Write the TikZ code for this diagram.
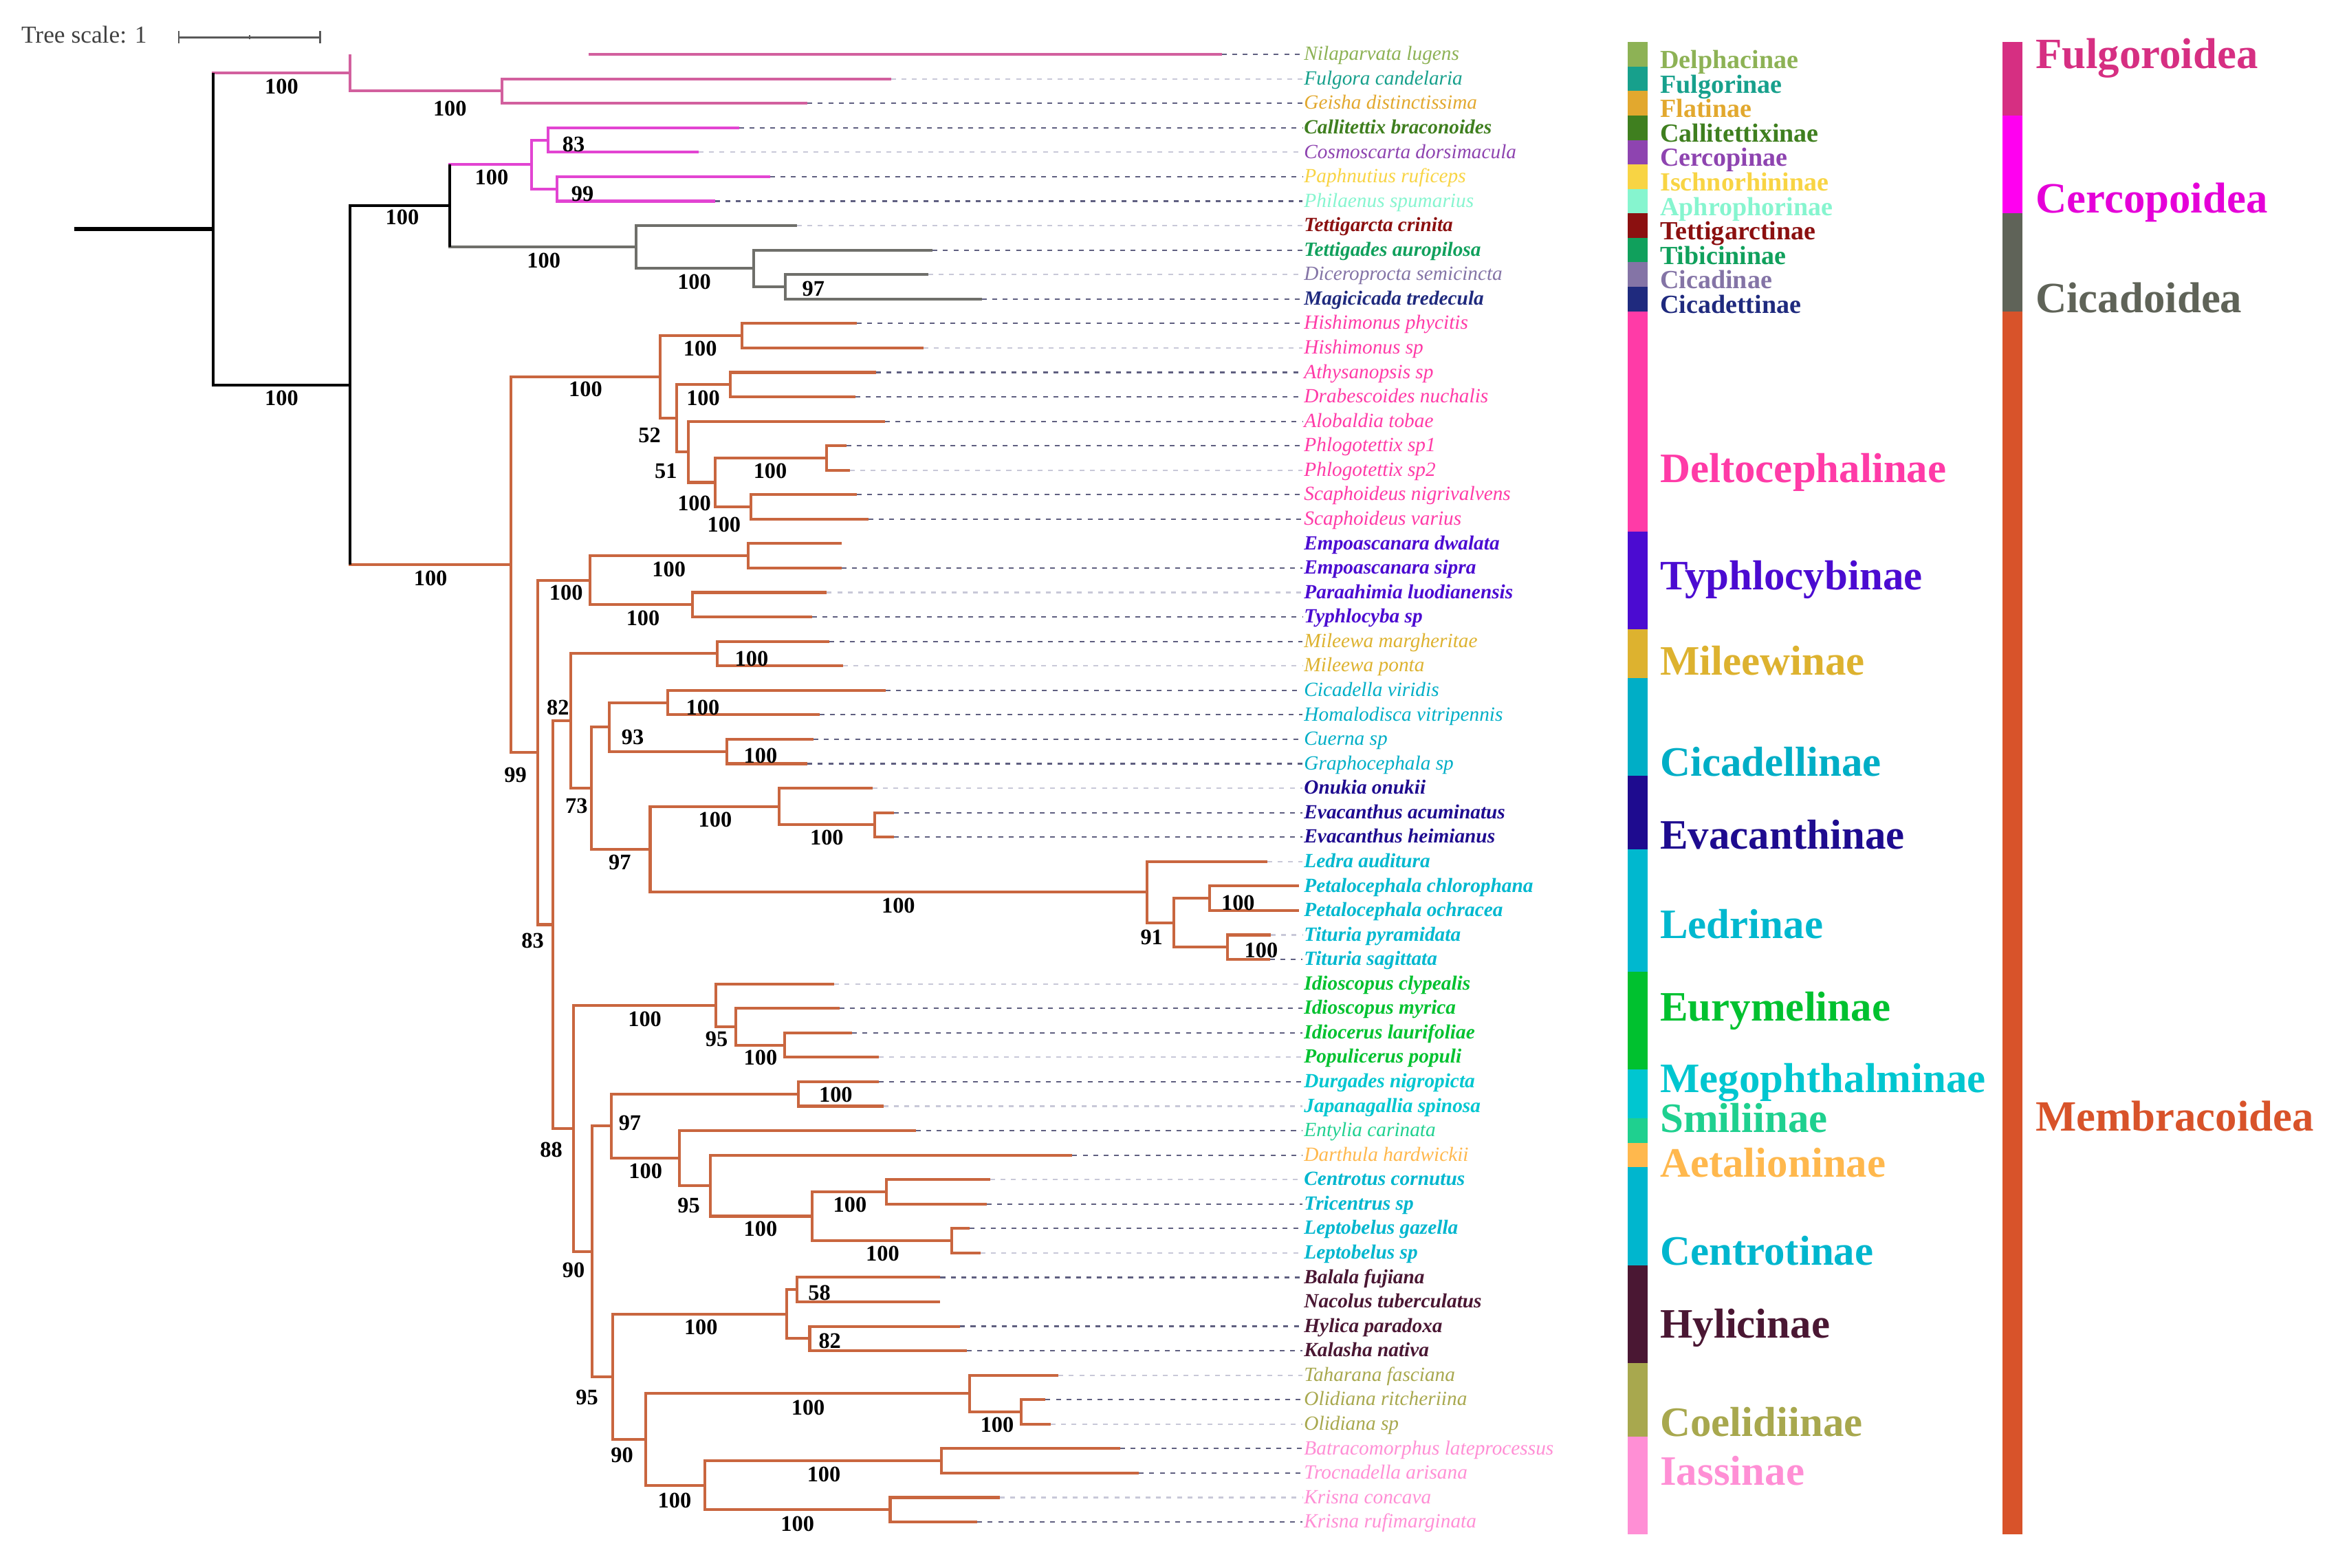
\documentclass[tikz,border=0pt]{standalone}
\usepackage{fontspec}
\setmainfont{Liberation Serif}
\usepackage{xcolor}
\usetikzlibrary{calc}

% branch colours
\definecolor{brF}{HTML}{D2609E}
\definecolor{brCe}{HTML}{E244D2}
\definecolor{brCi}{HTML}{6F6F6A}
\definecolor{brM}{HTML}{C9663F}
\definecolor{ldk}{HTML}{5F5F80}
\definecolor{llt}{HTML}{C8C8D8}
% subfamily colours
\definecolor{cDelph}{HTML}{8DB255}
\definecolor{cFulgi}{HTML}{17A08C}
\definecolor{cFlat}{HTML}{E2A82E}
\definecolor{cCallit}{HTML}{3F7F1F}
\definecolor{cCercop}{HTML}{8E44B0}
\definecolor{cIschno}{HTML}{F8D444}
\definecolor{cAphro}{HTML}{86F5CF}
\definecolor{cTettig}{HTML}{8B1010}
\definecolor{cTibic}{HTML}{10A05C}
\definecolor{cCicad}{HTML}{8474A6}
\definecolor{cCicadet}{HTML}{1F2A7E}
\definecolor{cDelto}{HTML}{FF3BA7}
\definecolor{cTyph}{HTML}{4B0BD1}
\definecolor{cMilee}{HTML}{DDB22F}
\definecolor{cCicadel}{HTML}{00AEC6}
\definecolor{cEvac}{HTML}{1E0B8F}
\definecolor{cLedr}{HTML}{00B8CF}
\definecolor{cEurym}{HTML}{00C12F}
\definecolor{cMegop}{HTML}{00C6D0}
\definecolor{cSmili}{HTML}{1FD08F}
\definecolor{cAetal}{HTML}{FFB84D}
\definecolor{cCentr}{HTML}{00B6CE}
\definecolor{cHylic}{HTML}{4A1733}
\definecolor{cCoeli}{HTML}{A8A84E}
\definecolor{cIassi}{HTML}{FF8FD5}
% superfamily colours
\definecolor{sFulg}{HTML}{D62F82}
\definecolor{sCerc}{HTML}{FF00F0}
\definecolor{sCica}{HTML}{5F6358}
\definecolor{sMemb}{HTML}{D8532A}

\begin{document}
\begin{tikzpicture}[x=0.2mm,y=-0.2mm,
    br/.style={line width=0.38mm},
    lead/.style={line width=0.2mm, dash pattern=on 0.65mm off 0.75mm},
    boot/.style={inner sep=0, font=\fontsize{8.5}{9}\selectfont\bfseries},
    leaf/.style={anchor=base west, inner sep=0, font=\fontsize{7.7}{8}\selectfont\itshape},
    subsmall/.style={anchor=base west, inner sep=0, font=\fontsize{10}{10}\selectfont\bfseries},
    subbig/.style={anchor=base west, inner sep=0, font=\fontsize{16}{16}\selectfont\bfseries},
    superfam/.style={anchor=base west, inner sep=0, font=\fontsize{16.5}{17}\selectfont\bfseries}]
    \useasboundingbox (0,0) rectangle (1568,1052);

    % Tree scale
    \node[anchor=base west, inner sep=0, text=black!75, font=\fontsize{9.3}{10}\selectfont] (scale) at (14,29) {Tree scale: 1};
    \draw[black!65, line width=0.25mm] (120,25) -- (215,25);
    \draw[black!65, line width=0.25mm] (120,21) -- (120,29);
    \draw[black!65, line width=0.25mm] (215,21) -- (215,29);
    \draw[black!65, line width=0.2mm] (167.6,23.5) -- (167.6,26.5);

    % Leaves
    \foreach \tx/\name/\col/\wt/\ld [count=\i] in {
        820/Nilaparvata lugens/cDelph/\mdseries/ldk,
        598/Fulgora candelaria/cFulgi/\mdseries/llt,
        542/Geisha distinctissima/cFlat/\mdseries/ldk,
        496/Callitettix braconoides/cCallit/\bfseries/ldk,
        469/Cosmoscarta dorsimacula/cCercop/\mdseries/llt,
        517/Paphnutius ruficeps/cIschno/\mdseries/ldk,
        480/Philaenus spumarius/cAphro/\mdseries/ldk,
        535/Tettigarcta crinita/cTettig/\bfseries/llt,
        626/Tettigades auropilosa/cTibic/\bfseries/ldk,
        623/Diceroprocta semicincta/cCicad/\mdseries/llt,
        659/Magicicada tredecula/cCicadet/\bfseries/ldk,
        575/Hishimonus phycitis/cDelto/\mdseries/ldk,
        620/Hishimonus sp/cDelto/\mdseries/llt,
        588/Athysanopsis sp/cDelto/\mdseries/ldk,
        574/Drabescoides nuchalis/cDelto/\mdseries/ldk,
        594/Alobaldia tobae/cDelto/\mdseries/ldk,
        568/Phlogotettix sp1/cDelto/\mdseries/ldk,
        570.5/Phlogotettix sp2/cDelto/\mdseries/llt,
        575/Scaphoideus nigrivalvens/cDelto/\mdseries/ldk,
        583/Scaphoideus varius/cDelto/\mdseries/ldk,
        565/Empoascanara dwalata/cTyph/\bfseries/none,
        565/Empoascanara sipra/cTyph/\bfseries/ldk,
        555/Paraahimia luodianensis/cTyph/\bfseries/llt,
        545/Typhlocyba sp/cTyph/\bfseries/ldk,
        556.5/Mileewa margheritae/cMilee/\mdseries/ldk,
        566/Mileewa ponta/cMilee/\mdseries/llt,
        594.5/Cicadella viridis/cCicadel/\mdseries/ldk,
        550/Homalodisca vitripennis/cCicadel/\mdseries/ldk,
        546/Cuerna sp/cCicadel/\mdseries/ldk,
        542/Graphocephala sp/cCicadel/\mdseries/ldk,
        585.7/Onukia onukii/cEvac/\bfseries/llt,
        600/Evacanthus acuminatus/cEvac/\bfseries/ldk,
        600/Evacanthus heimianus/cEvac/\bfseries/ldk,
        850.6/Ledra auditura/cLedr/\bfseries/llt,
        872/Petalocephala chlorophana/cLedr/\bfseries/none,
        872/Petalocephala ochracea/cLedr/\bfseries/none,
        853/Tituria pyramidata/cLedr/\bfseries/llt,
        852.5/Tituria sagittata/cLedr/\bfseries/ldk,
        560/Idioscopus clypealis/cEurym/\bfseries/llt,
        563.6/Idioscopus myrica/cEurym/\bfseries/ldk,
        572/Idiocerus laurifoliae/cEurym/\bfseries/ldk,
        590/Populicerus populi/cEurym/\bfseries/llt,
        590/Durgades nigropicta/cMegop/\bfseries/ldk,
        593/Japanagallia spinosa/cMegop/\bfseries/llt,
        614.6/Entylia carinata/cSmili/\mdseries/ldk,
        719.8/Darthula hardwickii/cAetal/\mdseries/ldk,
        664.7/Centrotus cornutus/cCentr/\bfseries/llt,
        662.4/Tricentrus sp/cCentr/\bfseries/ldk,
        651/Leptobelus gazella/cCentr/\bfseries/ldk,
        658/Leptobelus sp/cCentr/\bfseries/llt,
        631.2/Balala fujiana/cHylic/\bfseries/ldk,
        631/Nacolus tuberculatus/cHylic/\bfseries/none,
        644.5/Hylica paradoxa/cHylic/\bfseries/ldk,
        649/Kalasha nativa/cHylic/\bfseries/ldk,
        710.5/Taharana fasciana/cCoeli/\mdseries/llt,
        701.8/Olidiana ritcheriina/cCoeli/\mdseries/ldk,
        705.3/Olidiana sp/cCoeli/\mdseries/llt,
        751.7/Batracomorphus lateprocessus/cIassi/\mdseries/ldk,
        764.5/Trocnadella arisana/cIassi/\mdseries/ldk,
        671/Krisna concava/cIassi/\mdseries/llt,
        656/Krisna rufimarginata/cIassi/\mdseries/ldk} {
        \coordinate (t\i) at (\tx,{36.5+16.417*(\i-1)});
        \node[leaf, text=\col] (l\i) at (875,{40.5+16.417*(\i-1)}) {\wt\name};
        \draw[lead, draw=\ld] (t\i) -- ([xshift=-0.5pt]t\i -| l\i.west);
    }

    % Internal nodes
    \foreach \n/\x/\y in {
        nR/143/153.7, nC/235/258.55, nD/302/138.1,
        nFg/235/48.8, nFg2/337/61.1,
        nCe/357/110.4, nCe1/368/94.0, nCe2/374/126.8,
        nCi/427/165.8, nCi2/506/180.1, nCi3/527/192.5,
        nM/343/379.0, nDe/443/253.0, nDe1/498/225.3, nDe2/454/280.7,
        nDe3/490/258.1, nDe4/462/303.3, nDe5/480/323.8, nDe6/555/307.4, nDe7/504/340.2,
        nE99/361/505.05, nTy/396/389.5, nTy1/502/373.05, nTy2/465/405.9,
        nE83/371/620.6, nE82/383/483.9, nMi/481.5/438.7, nE73/397/529.0,
        nCa/409/488.0, nCa1/448/471.55, nCa2/488/504.4,
        nE97/436.4/570.05, nEv/523/541.3, nEv2/587/553.6,
        nLe/770/598.8, nLe2/788/619.3, nLe3/812/602.9, nLe4/824/635.7,
        nE88/385/757.3, nEu/480.4/674.7, nEu2/494/689.1, nEu3/526.6/701.4,
        nE90/397.4/839.9, nE97b/410.5/755.75, nMg/536/734.2,
        nSm/456/777.3, nCt/476.7/795.8, nCt1/545/816.3, nCt2/595/799.9, nCt3/639/832.7,
        nE95/411.2/924.05, nHy/528/882.0, nHy1/535/865.55, nHy2/543.5/898.4,
        nE90b/433.6/966.1, nCo/650.7/935.3, nCo2/685.3/947.6,
        nIa/473.3/996.9, nIa1/632/980.5, nIa2/597.5/1013.3}
        \coordinate (\n) at (\x,\y);
    \coordinate (root) at (50,153.7);
    \coordinate (s1) at (395,36.5);

    % Fulgoroidea
    \foreach \p/\c in {nR/nFg, nFg2/t2, nFg2/t3, nFg/nFg2}
        \draw[br, draw=brF] (\p) |- (\c);
    \draw[br, draw=brF] (nFg) -- (nFg |- t1);
    \draw[br, draw=brF] (s1) -- (t1);

    % Cercopoidea
    \foreach \p/\c in {nD/nCe, nCe/nCe1, nCe/nCe2, nCe1/t4, nCe1/t5, nCe2/t6, nCe2/t7}
        \draw[br, draw=brCe] (\p) |- (\c);

    % Cicadoidea
    \foreach \p/\c in {nD/nCi, nCi/t8, nCi/nCi2, nCi2/t9, nCi2/nCi3, nCi3/t10, nCi3/t11}
        \draw[br, draw=brCi] (\p) |- (\c);

    % Membracoidea
    \foreach \p/\c in {nC/nM, nM/nDe, nDe/nDe1, nDe1/t12, nDe1/t13, nDe/nDe2, nDe2/nDe3,
        nDe3/t14, nDe3/t15, nDe2/nDe4, nDe4/t16, nDe4/nDe5, nDe5/nDe6, nDe6/t17, nDe6/t18,
        nDe5/nDe7, nDe7/t19, nDe7/t20,
        nM/nE99, nE99/nTy, nTy/nTy1, nTy1/t21, nTy1/t22, nTy/nTy2, nTy2/t23, nTy2/t24,
        nE99/nE83, nE83/nE82, nE82/nMi, nMi/t25, nMi/t26, nE82/nE73, nE73/nCa,
        nCa/nCa1, nCa1/t27, nCa1/t28, nCa/nCa2, nCa2/t29, nCa2/t30,
        nE73/nE97, nE97/nEv, nEv/t31, nEv/nEv2, nEv2/t32, nEv2/t33,
        nE97/nLe, nLe/t34, nLe/nLe2, nLe2/nLe3, nLe3/t35, nLe3/t36, nLe2/nLe4, nLe4/t37, nLe4/t38,
        nE83/nE88, nE88/nEu, nEu/t39, nEu/nEu2, nEu2/t40, nEu2/nEu3, nEu3/t41, nEu3/t42,
        nE88/nE90, nE90/nE97b, nE97b/nMg, nMg/t43, nMg/t44, nE97b/nSm, nSm/t45,
        nSm/nCt, nCt/t46, nCt/nCt1, nCt1/nCt2, nCt2/t47, nCt2/t48, nCt1/nCt3, nCt3/t49, nCt3/t50,
        nE90/nE95, nE95/nHy, nHy/nHy1, nHy1/t51, nHy1/t52, nHy/nHy2, nHy2/t53, nHy2/t54,
        nE95/nE90b, nE90b/nCo, nCo/t55, nCo/nCo2, nCo2/t56, nCo2/t57,
        nE90b/nIa, nIa/nIa1, nIa1/t58, nIa1/t59, nIa/nIa2, nIa2/t60, nIa2/t61}
        \draw[br, draw=brM] (\p) |- (\c);

    % Backbone
    \draw[br] (nR) |- (nC);
    \draw[br] (nC) |- (nD);
    \draw[br] (nR) -- (nR |- nFg);
    \draw[br] (nC) -- (nC |- nM);
    \draw[br] (nD |- nCe) -- (nD |- nCi);
    \draw[line width=0.55mm] (root) -- (nR);

    % Bootstrap values
    \foreach \x/\y/\v [count=\k] in {
        189/58/100, 302/73/100, 385/97/83, 330/119/100, 391/130/99, 270/146/100,
        365/175/100, 466/189/100, 546/194/97, 189/267/100, 289/388/100,
        393/261/100, 470/234/100, 436/292/52, 472/267/100, 447/316/51, 466/338/100,
        517/316/100, 486/352/100,
        380/398/100, 449/382/100, 431.6/414.7/100, 346/520/99, 357.5/631.6/83,
        374.5/475/82, 504.5/442/100, 387/541/73, 424.7/494.8/93, 471.7/474.7/100,
        510.5/507/100, 416/579/97, 480/550/100, 555/562/100, 603/607.7/100,
        773/629/91, 831/606/100, 846.5/637.7/100,
        370/771.7/88, 432.8/684/100, 481/697.4/95, 510.5/710/100, 385/852.4/90,
        422.8/753.8/97, 561/734.6/100, 433.3/785.8/100, 462.3/808.9/95, 510.5/824.8/100,
        570.5/808.8/100, 592.4/841.5/100, 394/937.7/95, 470.5/890.8/100, 550/867.8/58,
        557/899.8/82, 417.5/976.6/90, 542.4/944.6/100, 669.3/956.5/100,
        452.8/1006.9/100, 553/989.4/100, 535.3/1022.7/100}
        \node[boot] (b\k) at (\x,\y) {\v};

    % Subfamily bar
    \foreach \a/\b/\col in {1/1/cDelph, 2/2/cFulgi, 3/3/cFlat, 4/4/cCallit, 5/5/cCercop,
        6/6/cIschno, 7/7/cAphro, 8/8/cTettig, 9/9/cTibic, 10/10/cCicad, 11/11/cCicadet,
        12/20/cDelto, 21/24/cTyph, 25/26/cMilee, 27/30/cCicadel, 31/33/cEvac, 34/38/cLedr,
        39/42/cEurym, 43/44/cMegop, 45/45/cSmili, 46/46/cAetal, 47/50/cCentr,
        51/54/cHylic, 55/57/cCoeli, 58/61/cIassi}
        \fill[\col] (1092.7,{36.5+16.417*(\a-1.5)}) rectangle (1105.9,{36.5+16.417*(\b-0.5)});

    % Subfamily labels
    \foreach \i/\txt/\col in {1/Delphacinae/cDelph, 2/Fulgorinae/cFulgi, 3/Flatinae/cFlat,
        4/Callitettixinae/cCallit, 5/Cercopinae/cCercop, 6/Ischnorhininae/cIschno,
        7/Aphrophorinae/cAphro, 8/Tettigarctinae/cTettig, 9/Tibicininae/cTibic,
        10/Cicadinae/cCicad, 11/Cicadettinae/cCicadet}
        \node[subsmall, text=\col] (sub\i) at (1114,{46+16.417*(\i-1)}) {\txt};
    \foreach \y/\txt/\col [count=\k] in {324/Deltocephalinae/cDelto, 396/Typhlocybinae/cTyph,
        453/Mileewinae/cMilee, 521/Cicadellinae/cCicadel, 570/Evacanthinae/cEvac,
        630/Ledrinae/cLedr, 685/Eurymelinae/cEurym, 733/Megophthalminae/cMegop,
        760/Smiliinae/cSmili, 790/Aetalioninae/cAetal, 849/Centrotinae/cCentr,
        898/Hylicinae/cHylic, 964/Coelidiinae/cCoeli, 997/Iassinae/cIassi}
        \node[subbig, text=\col] (big\k) at (1114,\y) {\txt};

    % Superfamily bar and labels
    \foreach \a/\b/\col in {1/3/sFulg, 4/7/sCerc, 8/11/sCica, 12/61/sMemb}
        \fill[\col] (1343.9,{36.5+16.417*(\a-1.5)}) rectangle (1357.4,{36.5+16.417*(\b-0.5)});
    \node[superfam, text=sFulg] (fulg) at (1366,46) {Fulgoroidea};
    \node[superfam, text=sCerc!90!black] (cerc) at (1366,143) {Cercopoidea};
    \node[superfam, text=sCica] (cica) at (1366,210) {Cicadoidea};
    \node[superfam, text=sMemb] (memb) at (1366,759) {Membracoidea};
\end{tikzpicture}
\end{document}
